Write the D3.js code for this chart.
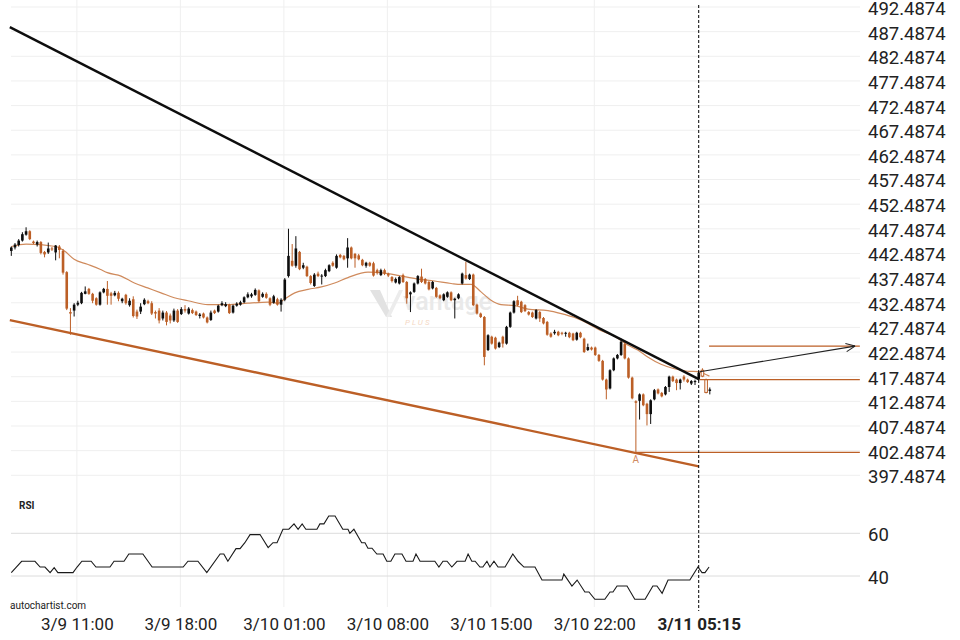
<!DOCTYPE html>
<html><head><meta charset="utf-8">
<script src="https://cdn.jsdelivr.net/npm/d3@7"></script>
<style>body{margin:0;background:#fff}svg{display:block;font-family:Roboto, "Liberation Sans", sans-serif}</style>
</head><body><svg id="c" width="960" height="640"></svg>
<script>
const opens = [
443.0,443.7,444.2,445.1,446.3,447.0,444.9,444.3,444.8,442.8,
442.7,443.5,442.7,443.9,443.0,438.7,430.6,430.9,432.1,432.4,
434.3,435.3,434.3,433.4,432.1,434.6,435.3,434.4,434.0,434.5,
432.8,434.1,432.0,433.2,430.7,430.7,432.2,432.8,432.4,430.6,
430.9,429.3,430.5,429.9,428.9,430.9,430.2,431.2,430.3,431.0,
430.7,429.8,430.3,429.5,429.0,430.9,430.7,432.0,431.8,432.1,
430.5,431.9,432.1,432.6,433.6,433.8,434.1,435.0,433.7,434.3,
433.4,432.5,433.2,432.1,433.1,437.9,441.0,440.0,442.8,439.6,
439.8,437.9,435.9,438.4,437.8,437.9,438.9,440.6,439.6,442.2,
442.0,441.5,443.7,442.4,442.1,441.2,440.0,440.6,440.5,439.1,
438.1,439.1,438.4,437.7,436.6,436.4,438.1,436.7,434.2,434.7,
436.4,437.8,437.3,436.7,435.4,435.5,434.0,433.0,433.7,434.6,
433.0,433.4,436.4,438.1,437.3,438.2,432.1,430.3,429.6,422.9,
425.6,425.4,423.5,425.6,424.2,427.6,430.5,433.0,432.7,432.0,
430.6,430.5,429.3,430.6,429.4,428.6,426.25,426.3,426.6,426.4,
426.2,426.4,426.25,425.0,426.4,425.2,422.9,423.4,423.4,421.9,
420.7,416.9,415.1,418.8,421.2,421.9,424.1,421.2,417.3,412.5,
412.6,413.9,412.0,409.9,412.9,414.9,414.2,413.9,415.4,417.5,
416.9,416.2,417.5,416.9,416.1,416.4,416.9,418.8,416.9,414.6];
const highs = [
443.9,444.6,445.4,446.8,447.8,447.2,445.1,445.1,445.0,443.0,
444.7,443.8,444.2,444.2,443.4,438.9,431.4,432.4,432.9,434.7,
435.8,435.5,434.5,433.6,434.8,435.5,436.9,434.7,434.9,434.8,
433.5,434.3,433.4,433.8,431.1,432.4,433.4,433.1,432.8,430.9,
431.4,430.9,430.8,430.3,431.3,431.2,431.6,432.0,431.6,431.3,
430.9,430.4,430.5,429.7,430.9,431.1,432.1,432.8,432.6,432.3,
432.1,432.6,432.9,433.8,434.6,434.5,435.4,435.2,434.6,434.6,
433.6,434.1,433.5,433.4,437.5,447.5,444.4,446.0,443.0,440.6,
440.0,438.1,438.5,438.8,438.3,439.4,440.3,440.9,442.3,442.4,
442.2,445.6,443.9,442.6,442.4,441.4,440.8,440.8,440.8,439.4,
439.4,439.4,438.6,437.9,437.6,437.9,438.4,436.9,434.8,436.6,
438.1,439.4,437.5,436.9,436.9,435.7,434.2,434.4,434.8,434.8,
433.5,434.4,438.6,440.8,438.4,438.4,432.3,430.5,429.8,426.1,
425.8,425.6,424.6,425.8,427.8,430.7,433.0,433.9,432.9,432.2,
430.8,430.7,431.2,430.8,429.6,428.8,426.5,427.0,426.8,426.6,
426.6,426.6,426.4,426.6,426.6,425.4,424.2,423.6,423.6,422.1,
420.9,417.1,419.0,421.4,422.1,425.2,424.9,421.4,417.5,412.7,
414.1,414.1,412.2,412.9,415.0,415.1,414.4,415.6,417.7,417.7,
417.1,417.1,417.8,417.1,416.8,416.9,418.5,419.2,417.1,415.3];
const lows = [
442.0,443.3,443.9,444.9,446.1,445.2,444.4,443.9,442.3,441.7,
442.4,443.0,441.1,441.5,438.2,431.0,426.0,429.7,431.8,432.2,
434.2,434.1,432.4,431.9,431.9,434.4,432.1,432.1,433.8,432.8,
432.4,432.1,431.7,429.5,429.2,430.2,432.0,432.2,430.0,429.3,
428.3,428.9,427.9,428.3,428.6,428.4,430.0,430.5,430.1,430.2,
429.8,429.3,429.3,428.3,428.8,430.2,430.5,431.8,431.6,430.2,
430.3,431.7,431.9,432.4,433.4,433.5,433.9,432.6,433.5,433.3,
431.8,432.3,431.9,430.7,432.8,437.6,439.8,439.6,439.1,439.3,
437.7,436.2,435.7,437.7,436.2,437.7,438.7,439.8,439.4,441.5,
441.1,439.6,441.3,439.6,441.1,439.9,439.6,439.8,437.8,438.2,
437.9,438.1,437.7,436.6,436.4,436.2,436.5,432.3,430.6,434.5,
436.2,436.5,436.2,435.0,435.2,433.5,433.2,432.8,433.5,432.8,
429.3,433.2,436.2,437.2,437.1,431.8,430.1,429.4,419.8,422.7,
424.0,423.0,423.3,423.4,424.0,427.4,430.3,431.8,430.4,430.6,
429.9,429.4,429.1,428.6,428.1,425.8,425.4,426.0,425.7,425.9,
425.6,425.3,424.7,424.8,425.3,422.3,422.7,422.8,421.7,420.5,
416.7,412.9,414.9,418.6,421.0,421.7,421.0,417.1,412.9,401.9,
408.8,411.5,407.6,407.9,412.7,413.9,413.3,413.7,414.4,416.4,
414.75,414.9,416.5,416.2,415.8,415.8,416.7,417.4,414.1,413.9];
const closes = [
443.7,444.3,445.1,446.4,447.0,445.4,444.6,444.8,442.6,442.3,
443.5,443.3,444.1,443.2,438.6,431.3,430.3,432.1,432.5,434.5,
434.8,434.3,432.9,432.1,434.6,435.3,433.9,433.9,434.5,433.3,
433.3,432.4,432.9,429.8,429.7,431.7,433.1,432.4,430.3,430.3,
428.9,430.5,428.6,428.9,430.9,428.6,431.2,430.9,431.3,430.4,
430.0,430.1,429.5,428.5,430.5,430.4,431.9,432.4,432.2,430.4,
431.9,432.3,432.6,433.6,434.2,434.2,435.1,432.8,434.3,433.5,
432.1,433.8,432.1,433.1,437.2,442.0,440.0,443.5,439.3,440.1,
437.9,436.5,438.2,437.9,438.0,439.1,440.1,440.0,442.0,441.7,
441.3,443.7,441.5,441.5,441.3,440.1,440.6,440.0,438.0,438.5,
439.1,438.4,438.0,436.9,437.3,437.7,436.7,433.4,434.6,436.4,
437.9,436.7,436.4,435.2,436.7,433.7,433.4,434.2,434.6,433.0,
433.3,434.2,438.4,437.4,438.2,432.0,430.3,429.6,421.5,425.9,
424.2,423.2,424.4,424.2,427.6,430.5,432.8,432.0,430.6,430.8,
430.1,429.6,431.0,429.3,428.3,426.0,425.6,426.6,425.9,426.2,
426.4,425.5,424.9,426.4,425.5,422.5,423.5,423.0,421.9,420.7,
416.9,414.9,418.8,421.2,421.9,424.6,421.2,417.3,413.1,412.2,
413.9,411.7,409.9,412.7,414.75,414.1,413.5,415.4,417.5,416.6,
416.2,416.9,416.9,416.4,416.6,416.6,418.3,417.6,414.3,414.9];
const hollowCandles = [187, 188];

const maIdx = [0,4,12,14.4,17,20.6,24,26,29.7,33.3,36.9,40.5,44.1,47.8,53.2,58.6,64,69.5,72.2,73.5,76.7,80.3,83.9,87.5,91.1,96.5,101.9,105.5,110,114.5,119,121.7,124.4,127.1,129.8,132.5,136.2,139.8,145.2,148.8,152.4,156,159.6,163.2,166.8,169.5,172.2,175.8,179.4,183,185.9,187.5,188.9];
const maVal = [443.9,444.4,443.9,443.0,441.3,440.3,439.3,438.6,437.9,436.5,435.5,434.5,433.5,432.9,432.1,432.1,432.4,432.6,432.4,433.0,434.5,435.2,435.7,436.5,437.6,438.7,438.4,437.9,437.3,436.9,436.4,436.2,436.2,434.7,433.0,432.1,431.9,431.2,430.9,430.3,429.5,428.3,426.8,425.7,423.9,422.9,421.5,420.0,419.1,418.6,418.5,418.1,417.6];

const rsiIdx = [0,2.8,6.4,7.8,9.1,10.5,11.6,12.6,16.7,17.8,19.1,21.6,22.9,26.7,27.8,30.5,31.8,35.6,38.1,46.5,47.8,50.5,52.9,56.5,57.5,58.6,60.8,61.9,63.2,64.6,67.3,69.5,70.8,71.9,73.5,75.1,76.5,77.6,78.7,79.7,82.7,83.5,84.6,85.9,87.6,89.7,91.1,91.6,92.7,94.8,95.7,96.5,97.6,98.9,100.6,101.6,102.7,103.8,105.7,106.8,108.7,109.5,110.6,114.6,115.7,116.8,117.9,119.2,120.6,122.8,123.6,124.6,125.5,126.8,127.6,128.7,129.5,130.6,131.7,133.6,135.7,137.1,138.7,141.7,143.6,149.0,149.5,151.7,153.1,155.2,156.3,157.9,160.6,162.0,162.8,163.9,166.6,168.7,171.5,173.6,174.7,176.1,177.7,183.6,185.8,186.9,187.7,188.8];
const rsiVal = [41.6,46.9,46.9,44.2,44.2,41.6,43.9,41.6,41.6,44.2,46.9,46.9,44.2,44.2,46.9,46.9,50.3,50.3,44.2,44.2,46.9,46.9,41.6,50.3,50.3,46.9,52.8,52.8,55.6,59.4,59.4,53.3,55.6,55.6,61.9,61.9,64.4,61.9,64.4,61.9,61.9,64.4,64.4,68.1,68.1,61.9,61.9,60.0,61.9,55.6,55.6,53.0,53.0,50.3,50.3,46.9,46.9,50.3,50.3,46.9,46.9,50.3,46.9,46.9,44.2,46.9,46.9,44.2,46.9,46.9,50.3,46.9,46.9,44.2,44.2,46.9,44.2,46.9,44.2,44.2,50.3,46.9,44.2,44.2,38.1,38.1,40.9,35.3,38.1,32.5,32.5,29.1,29.1,32.5,32.5,35.3,35.3,29.1,29.1,35.3,35.3,31.9,38.1,38.1,44.2,41.6,41.6,44.2];

const priceTicks = [397.4874,402.4874,407.4874,412.4874,417.4874,422.4874,427.4874,432.4874,437.4874,442.4874,447.4874,452.4874,457.4874,462.4874,467.4874,472.4874,477.4874,482.4874,487.4874,492.4874];
const rsiTicks = [40, 60];
const timeTickIdx = [17.75, 45.75, 73.75, 101.75, 129.75, 157.75, 186];
const timeTickLabels = ["3/9 11:00","3/9 18:00","3/10 01:00","3/10 08:00","3/10 15:00","3/10 22:00","3/11 05:15"];
const currentIdx = 186;

const resistanceLine = [[-0.4, 488.4], [186, 417.0]];
const supportLine = [[-0.4, 428.96], [186, 399.3]];
const levelFrom = [169, 186.3, 188.8];
const levelTo = [229.6, 229.6, 229.6];
const levelPrice = [402.15, 416.9, 423.7];
const forecastArrow = [[186.3, 418.5], [228.3, 423.7]];
const pointLabelIdx = 169, pointLabelPrice = 402.15, pointLabelText = "A";

const ORANGE = "#bc5f26", BLACK = "#0d0d0d";
const svg = d3.select("#c");
const x = d3.scaleLinear().domain([0, 189]).range([11.3, 709.8]);
const y = d3.scaleLinear().domain([397.4874, 492.4874]).range([475.3, 7.0]);
const yR = d3.scaleLinear().domain([40, 60]).range([576, 533.3]);
const PLOT_L = 11, PLOT_R = 860;

// grid
svg.append("g").selectAll("line").data(priceTicks).join("line")
  .attr("x1", PLOT_L).attr("x2", PLOT_R).attr("y1", d => y(d)).attr("y2", d => y(d))
  .attr("stroke", "#efefef").attr("stroke-width", 1);
svg.append("g").selectAll("line").data(timeTickIdx.slice(0, -1)).join("line")
  .attr("x1", d => x(d)).attr("x2", d => x(d)).attr("y1", 0).attr("y2", 607)
  .attr("stroke", "#efefef").attr("stroke-width", 1);
svg.append("g").selectAll("line").data(rsiTicks).join("line")
  .attr("x1", PLOT_L).attr("x2", PLOT_R).attr("y1", d => yR(d)).attr("y2", d => yR(d))
  .attr("stroke", "#dcdcdc").attr("stroke-width", 1);

// watermark
const wm = svg.append("g");
wm.append("path").attr("d", "M370,290 L380,290 L392,317 L386,317 Z").attr("fill", "#e2e2e2");
wm.append("path").attr("d", "M386,317 L399,290 L403,290 L390,317 Z").attr("fill", "#ececec");
wm.append("text").attr("x", 403).attr("y", 310).text("vantage")
  .attr("font-size", 25).attr("font-weight", 500).attr("fill", "#e9e9e9");
wm.append("text").attr("x", 405).attr("y", 325).text("PLUS")
  .attr("font-size", 8).attr("font-style", "italic").attr("letter-spacing", 2).attr("fill", "#f4d8c4");

// moving average
const maData = maIdx.map((d, i) => [d, maVal[i]]);
svg.append("path").datum(maData)
  .attr("d", d3.line().x(d => x(d[0])).y(d => y(d[1])).curve(d3.curveMonotoneX))
  .attr("fill", "none").attr("stroke", "#cf8a5c").attr("stroke-width", 1.2);

// candles
const candles = opens.map((o, i) => ({i, o, h: highs[i], l: lows[i], c: closes[i], hollow: hollowCandles.includes(i)}));
const cg = svg.append("g");
cg.selectAll("line").data(candles).join("line")
  .attr("x1", d => x(d.i)).attr("x2", d => x(d.i))
  .attr("y1", d => y(d.h)).attr("y2", d => y(d.l))
  .attr("stroke", d => d.c >= d.o ? BLACK : ORANGE).attr("stroke-width", 1);
cg.selectAll("rect").data(candles).join("rect")
  .attr("x", d => x(d.i) - 1.3).attr("width", 2.6)
  .attr("y", d => y(Math.max(d.o, d.c)))
  .attr("height", d => Math.max(1, y(Math.min(d.o, d.c)) - y(Math.max(d.o, d.c))))
  .attr("fill", d => d.hollow ? "#fff" : (d.c >= d.o ? BLACK : ORANGE))
  .attr("stroke", d => d.hollow ? ORANGE : "none").attr("stroke-width", 1);

// trend lines
const lineGen = d3.line().x(d => x(d[0])).y(d => y(d[1]));
svg.append("path").datum(resistanceLine).attr("d", lineGen)
  .attr("stroke", BLACK).attr("stroke-width", 2.4).attr("fill", "none");
svg.append("path").datum(supportLine).attr("d", lineGen)
  .attr("stroke", ORANGE).attr("stroke-width", 2.4).attr("fill", "none");

// levels
svg.append("g").selectAll("line").data(levelPrice).join("line")
  .attr("x1", (d, i) => x(levelFrom[i])).attr("x2", (d, i) => x(levelTo[i]))
  .attr("y1", d => y(d)).attr("y2", d => y(d))
  .attr("stroke", ORANGE).attr("stroke-width", 1.2);

// forecast arrow
const [a0, a1] = forecastArrow;
const ax0 = x(a0[0]), ay0 = y(a0[1]), ax1 = x(a1[0]), ay1 = y(a1[1]);
svg.append("line").attr("x1", ax0).attr("y1", ay0).attr("x2", ax1).attr("y2", ay1)
  .attr("stroke", "#222").attr("stroke-width", 1.1);
const ang = Math.atan2(ay1 - ay0, ax1 - ax0);
[0.42, -0.42].forEach(da => {
  svg.append("line").attr("x1", ax1).attr("y1", ay1)
    .attr("x2", ax1 - 10 * Math.cos(ang + da)).attr("y2", ay1 - 10 * Math.sin(ang + da))
    .attr("stroke", "#222").attr("stroke-width", 1.1);
});

// point label
svg.append("text").attr("x", x(pointLabelIdx)).attr("y", y(pointLabelPrice) + 11)
  .attr("text-anchor", "middle").attr("font-size", 10).attr("fill", "#d08a60").text(pointLabelText);

// RSI line
const rsiData = rsiIdx.map((d, i) => [d, rsiVal[i]]);
svg.append("path").datum(rsiData)
  .attr("d", d3.line().x(d => x(d[0])).y(d => yR(d[1])))
  .attr("fill", "none").attr("stroke", "#1a1a1a").attr("stroke-width", 1.1);

// current time dashed line
svg.append("line").attr("x1", x(currentIdx)).attr("x2", x(currentIdx)).attr("y1", 5).attr("y2", 611)
  .attr("stroke", "#000").attr("stroke-width", 1).attr("stroke-dasharray", "3,2");

// axes
const axR = svg.append("g").attr("transform", `translate(${PLOT_R},1.5)`)
  .call(d3.axisRight(y).tickValues(priceTicks).tickFormat(d3.format(".4f")).tickSize(0).tickPadding(8));
const axRsi = svg.append("g").attr("transform", `translate(${PLOT_R},1.5)`)
  .call(d3.axisRight(yR).tickValues(rsiTicks).tickFormat(d3.format("d")).tickSize(0).tickPadding(8));
const axB = svg.append("g").attr("transform", "translate(0,611)")
  .call(d3.axisBottom(x).tickValues(timeTickIdx).tickFormat((d, i) => timeTickLabels[i]).tickSize(0).tickPadding(7));
[axR, axRsi].forEach(g => {
  g.select(".domain").remove();
  g.selectAll("text").attr("font-size", 18.5).attr("fill", "#222").attr("font-family", "Roboto, sans-serif");
});
axB.select(".domain").remove();
axB.selectAll("text").attr("font-size", 17).attr("fill", "#222").attr("font-family", "Roboto, sans-serif");
axB.selectAll("text").filter((d, i) => i === timeTickIdx.length - 1).attr("font-weight", "bold");

svg.append("text").attr("x", 19).attr("y", 509).text("RSI")
  .attr("font-size", 10).attr("font-weight", "bold").attr("fill", "#222");
svg.append("text").attr("x", 10).attr("y", 609).text("autochartist.com")
  .attr("font-size", 10).attr("fill", "#222");
</script></body></html>
